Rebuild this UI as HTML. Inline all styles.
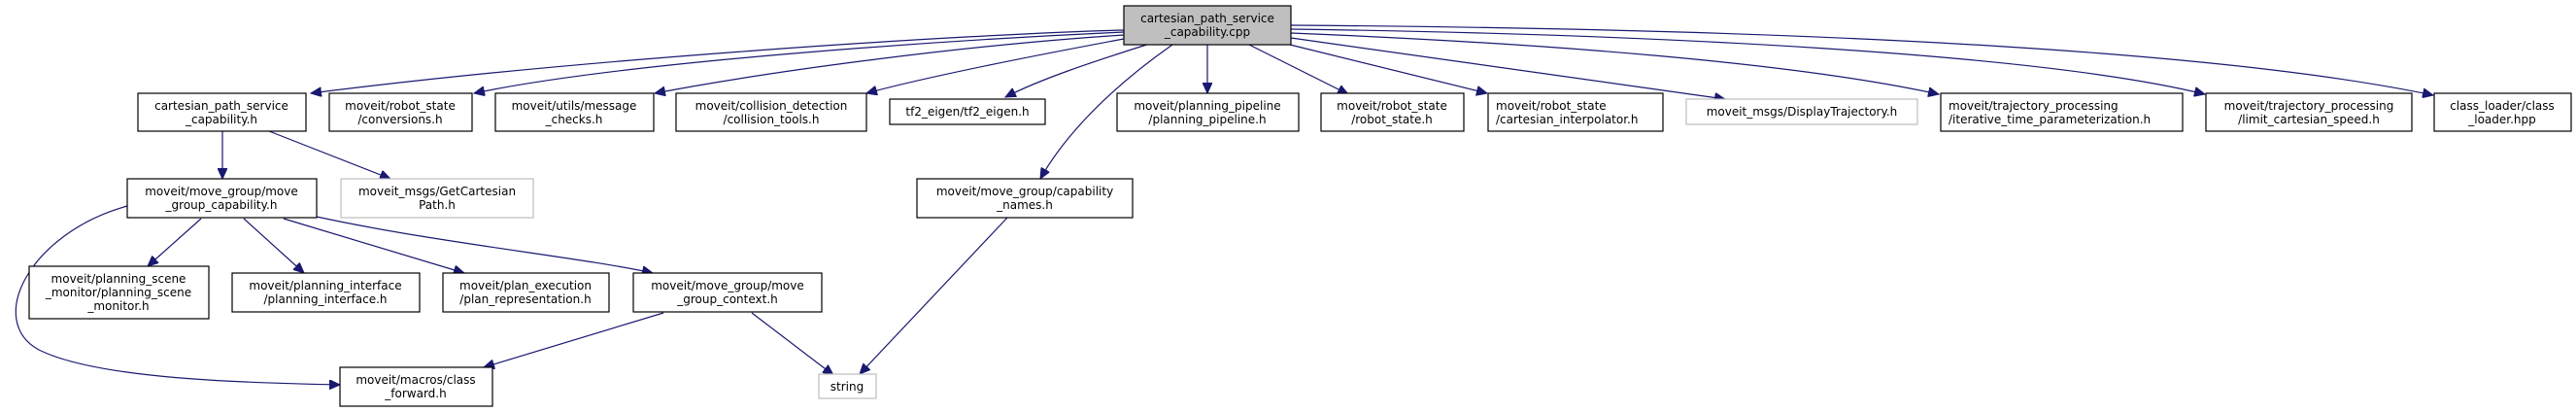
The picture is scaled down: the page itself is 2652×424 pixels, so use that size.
<!DOCTYPE html>
<html><head><meta charset="utf-8"><style>
html,body{margin:0;padding:0;background:#fff;}
svg{display:block;}
text{font-family:"DejaVu Sans","Liberation Sans",sans-serif;font-size:12px;fill:#000;}
</style></head><body>
<svg width="2652" height="424" viewBox="0 0 2652 424" xmlns="http://www.w3.org/2000/svg">
<defs>
<marker id="a" markerUnits="userSpaceOnUse" markerWidth="12" markerHeight="10" refX="11" refY="5" orient="auto">
<path d="M0,0 L11,5 L0,10 z" fill="#191970" stroke="#191970"/>
</marker>
</defs>
<g fill="none" stroke="#191970" stroke-width="1.2" marker-end="url(#a)">
<path d="M1157,31 C1000,35 600,60 320,96"/>
<path d="M1157,33 C1000,40 650,62 488,96"/>
<path d="M1157,36 C1000,46 800,72 674,96"/>
<path d="M1157,40 C1050,60 950,80 892,96"/>
<path d="M1190,43 C1120,65 1070,82 1035,100"/>
<path d="M1207,46 C1130,100 1090,150 1071,184"/>
<path d="M1243,46 L1243,96"/>
<path d="M1286,46 L1388,97"/>
<path d="M1328,46 L1531,96"/>
<path d="M1329,39 C1550,70 1700,90 1776,102"/>
<path d="M1329,34 C1600,45 1850,65 1996,97"/>
<path d="M1329,30 C1700,35 2100,55 2270,97"/>
<path d="M1329,26 C1900,30 2300,55 2505,98"/>
<path d="M229,135 L229,184"/>
<path d="M277,135 L402,184"/>
<path d="M131,212 C30,240 -15,330 40,360 C100,390 250,394 350,396"/>
<path d="M207,225 L152,274"/>
<path d="M251,225 L313,281"/>
<path d="M292,225 L478,281"/>
<path d="M326,223 C450,250 600,265 672,281"/>
<path d="M683,322 L498,378"/>
<path d="M774,322 L858,386"/>
<path d="M1037,224 L885,385"/>
</g>
<g stroke-width="1.2">
<rect x="1157" y="6" width="172" height="40" fill="#bfbfbf" stroke="#000"/>
<rect x="142" y="96" width="173" height="39" fill="#fff" stroke="#000"/>
<rect x="339" y="96" width="147" height="39" fill="#fff" stroke="#000"/>
<rect x="510" y="96" width="163" height="39" fill="#fff" stroke="#000"/>
<rect x="696" y="96" width="196" height="39" fill="#fff" stroke="#000"/>
<rect x="916" y="102" width="160" height="26" fill="#fff" stroke="#000"/>
<rect x="1150" y="96" width="187" height="39" fill="#fff" stroke="#000"/>
<rect x="1360" y="96" width="147" height="39" fill="#fff" stroke="#000"/>
<rect x="1532" y="96" width="180" height="39" fill="#fff" stroke="#000"/>
<rect x="1736" y="102" width="238" height="26" fill="#fff" stroke="#bfbfbf"/>
<rect x="1998" y="96" width="249" height="39" fill="#fff" stroke="#000"/>
<rect x="2271" y="96" width="212" height="39" fill="#fff" stroke="#000"/>
<rect x="2506" y="96" width="141" height="39" fill="#fff" stroke="#000"/>
<rect x="131" y="184" width="195" height="40" fill="#fff" stroke="#000"/>
<rect x="351" y="184" width="198" height="40" fill="#fff" stroke="#bfbfbf"/>
<rect x="944" y="184" width="222" height="40" fill="#fff" stroke="#000"/>
<rect x="30" y="274" width="185" height="54" fill="#fff" stroke="#000"/>
<rect x="239" y="281" width="193" height="40" fill="#fff" stroke="#000"/>
<rect x="456" y="281" width="171" height="40" fill="#fff" stroke="#000"/>
<rect x="652" y="281" width="194" height="40" fill="#fff" stroke="#000"/>
<rect x="350" y="378" width="157" height="40" fill="#fff" stroke="#000"/>
<rect x="843" y="385" width="59" height="25" fill="#fff" stroke="#bfbfbf"/>
</g>
<g text-anchor="middle">
<text x="1243" y="23">cartesian_path_service</text><text x="1243" y="37">_capability.cpp</text>
<text x="228" y="113">cartesian_path_service</text><text x="228" y="127">_capability.h</text>
<text x="412" y="113">moveit/robot_state</text><text x="412" y="127">/conversions.h</text>
<text x="591" y="113">moveit/utils/message</text><text x="591" y="127">_checks.h</text>
<text x="794" y="113">moveit/collision_detection</text><text x="794" y="127">/collision_tools.h</text>
<text x="996" y="119">tf2_eigen/tf2_eigen.h</text>
<text x="1243" y="113">moveit/planning_pipeline</text><text x="1243" y="127">/planning_pipeline.h</text>
<text x="1433" y="113">moveit/robot_state</text><text x="1433" y="127">/robot_state.h</text>
<text x="1855" y="119" fill="#000">moveit_msgs/DisplayTrajectory.h</text>
<text x="2377" y="113">moveit/trajectory_processing</text><text x="2377" y="127">/limit_cartesian_speed.h</text>
<text x="2576" y="113">class_loader/class</text><text x="2576" y="127">_loader.hpp</text>
<text x="228" y="201">moveit/move_group/move</text><text x="228" y="215">_group_capability.h</text>
<text x="450" y="201">moveit_msgs/GetCartesian</text><text x="450" y="215">Path.h</text>
<text x="1055" y="201">moveit/move_group/capability</text><text x="1055" y="215">_names.h</text>
<text x="122" y="291">moveit/planning_scene</text><text x="122" y="305">_monitor/planning_scene</text><text x="122" y="319">_monitor.h</text>
<text x="335" y="298">moveit/planning_interface</text><text x="335" y="312">/planning_interface.h</text>
<text x="541" y="298">moveit/plan_execution</text><text x="541" y="312">/plan_representation.h</text>
<text x="749" y="298">moveit/move_group/move</text><text x="749" y="312">_group_context.h</text>
<text x="428" y="395">moveit/macros/class</text><text x="428" y="409">_forward.h</text>
<text x="872" y="402">string</text>
</g>
<text x="1540" y="113">moveit/robot_state</text><text x="1540" y="127">/cartesian_interpolator.h</text>
<text x="2006" y="113">moveit/trajectory_processing</text><text x="2006" y="127">/iterative_time_parameterization.h</text>
</svg>
</body></html>
